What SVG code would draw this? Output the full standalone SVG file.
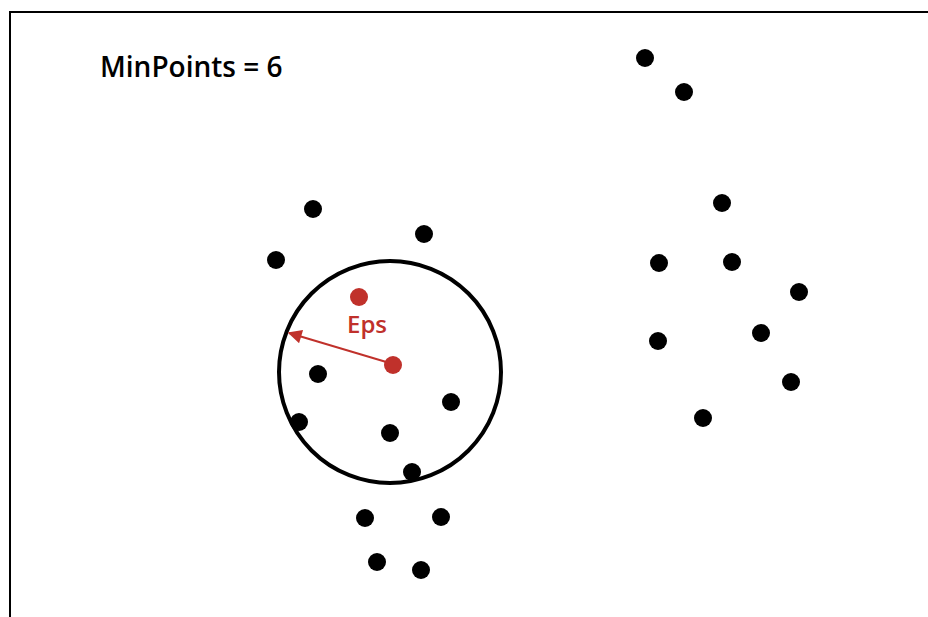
<svg xmlns="http://www.w3.org/2000/svg" width="928" height="617" viewBox="0 0 928 617">
<defs>
<style>
.dot{fill:#000}
.red{fill:#c0312b}
.lbl{font-family:"Open Sans","Noto Sans",sans-serif;font-weight:600}
</style>
<marker id="ah" viewBox="0 0 10 10" refX="9" refY="5" markerWidth="18" markerHeight="14" markerUnits="userSpaceOnUse" orient="auto">
<path d="M0,0 L10,5 L0,10 z" fill="#c0312b"/>
</marker>
</defs>
<rect width="928" height="617" fill="#fff"/>
<path d="M10,617 V12 H928" fill="none" stroke="#000" stroke-width="2"/>
<text class="lbl" x="100" y="77" font-size="28" fill="#000">MinPoints = 6</text>
<g id="eps-circle"><circle cx="390" cy="372" r="111" fill="none" stroke="#000" stroke-width="4"/></g>
<g id="connectors">
<line x1="393" y1="364" x2="289" y2="333" stroke="#c0312b" stroke-width="2" marker-end="url(#ah)"/>
</g>
<text class="lbl" x="347" y="333" font-size="24" fill="#c0312b">Eps</text>
<g id="points">
<circle class="dot" cx="645" cy="58" r="9"/>
<circle class="dot" cx="684" cy="92" r="9"/>
<circle class="dot" cx="313" cy="209" r="9"/>
<circle class="dot" cx="424" cy="234" r="9"/>
<circle class="dot" cx="276" cy="260" r="9"/>
<circle class="red" cx="359" cy="297" r="9"/>
<circle class="red" cx="393" cy="365" r="9"/>
<circle class="dot" cx="318" cy="374" r="9"/>
<circle class="dot" cx="451" cy="402" r="9"/>
<circle class="dot" cx="299" cy="422" r="9"/>
<circle class="dot" cx="390" cy="433" r="9"/>
<circle class="dot" cx="412" cy="472" r="9"/>
<circle class="dot" cx="365" cy="518" r="9"/>
<circle class="dot" cx="441" cy="517" r="9"/>
<circle class="dot" cx="377" cy="562" r="9"/>
<circle class="dot" cx="421" cy="570" r="9"/>
<circle class="dot" cx="722" cy="203" r="9"/>
<circle class="dot" cx="659" cy="263" r="9"/>
<circle class="dot" cx="732" cy="262" r="9"/>
<circle class="dot" cx="799" cy="292" r="9"/>
<circle class="dot" cx="658" cy="341" r="9"/>
<circle class="dot" cx="761" cy="333" r="9"/>
<circle class="dot" cx="791" cy="382" r="9"/>
<circle class="dot" cx="703" cy="418" r="9"/>
</g>
</svg>
